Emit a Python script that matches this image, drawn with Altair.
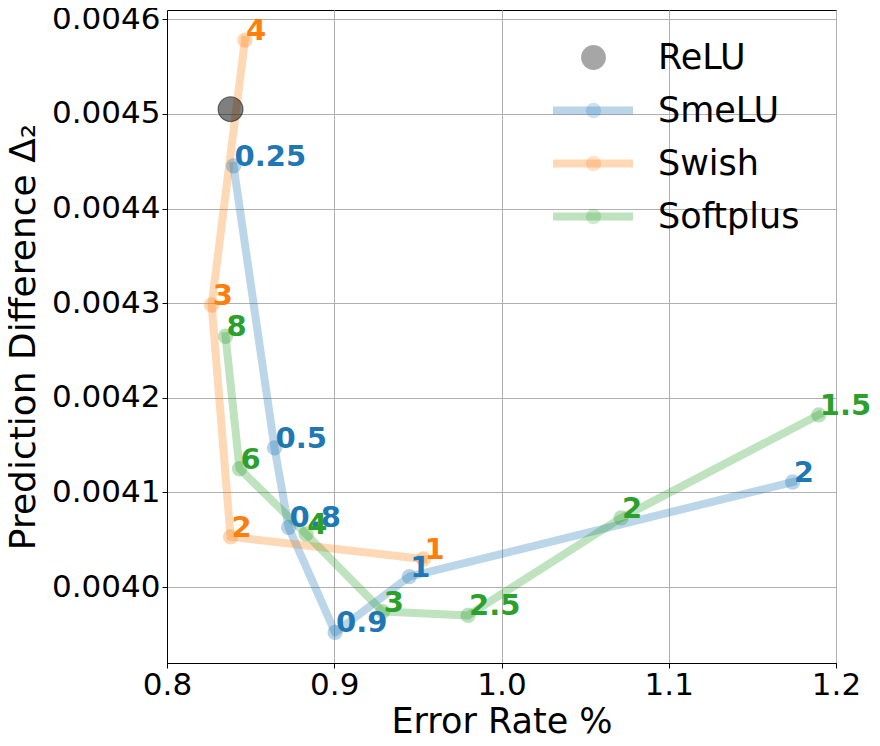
import altair as alt
import pandas as pd

# ---------------- data ----------------
series_names = ["ReLU", "SmeLU", "Swish", "Softplus"]
point_keys = ["relu", "smelu", "swish", "softplus"]
series_colors = ["#000000", "#1f77b4", "#ff7f0e", "#2ca02c"]

relu_err = [0.8380]
relu_pd = [0.004505]

smelu_beta = ["0.25", "0.5", "0.8", "0.9", "1", "2"]
smelu_err = [0.8398, 0.8643, 0.8727, 0.9005, 0.9449, 1.1741]
smelu_pd = [0.004445, 0.004147, 0.004063, 0.003952, 0.004011, 0.004111]

swish_beta = ["4", "3", "2", "1"]
swish_err = [0.8466, 0.8267, 0.8380, 0.9533]
swish_pd = [0.004578, 0.004298, 0.004053, 0.0040296]

softplus_beta = ["8", "6", "4", "3", "2.5", "2", "1.5"]
softplus_err = [0.8350, 0.8434, 0.8832, 0.9290, 0.9800, 1.0715, 1.1897]
softplus_pd = [0.004265, 0.004125, 0.004056, 0.003974, 0.003970, 0.004073, 0.004182]

x_ticks = [0.8, 0.9, 1.0, 1.1, 1.2]
y_ticks = [0.0040, 0.0041, 0.0042, 0.0043, 0.0044, 0.0045, 0.0046]
x_domain = [0.8, 1.2]
y_domain = [0.0039197, 0.0046098]

# ---------------- tables ----------------
rows = []
for name, key, betas, errs, pds in [
    ("SmeLU", "smelu", smelu_beta, smelu_err, smelu_pd),
    ("Swish", "swish", swish_beta, swish_err, swish_pd),
    ("Softplus", "softplus", softplus_beta, softplus_err, softplus_pd),
]:
    for i, (b, e, p) in enumerate(zip(betas, errs, pds)):
        rows.append({"series": name, "key": key, "beta": b, "err": e, "pd": p, "idx": i})
df = pd.DataFrame(rows)
relu_df = pd.DataFrame({"series": ["ReLU"], "key": ["relu"], "beta": [""],
                        "err": relu_err, "pd": relu_pd, "idx": [0]})
all_pts = pd.concat([relu_df, df], ignore_index=True)

FONT = "DejaVu Sans"

X = alt.X("err:Q", scale=alt.Scale(domain=x_domain, nice=False, zero=False),
          axis=alt.Axis(values=x_ticks, format=".1f", title="Error Rate %",
                        titleFontSize=35, titlePadding=4))
Y = alt.Y("pd:Q", scale=alt.Scale(domain=y_domain, nice=False, zero=False),
          axis=alt.Axis(values=y_ticks, format=".4f", title="Prediction Difference Δ₂",
                        titleFontSize=36, titlePadding=9))

LEG_Y = 30
ROW_PAD = 17
CLIP_H = 35

legend_lines = alt.Legend(
    orient="none", legendX=382, legendY=LEG_Y, title=None,
    symbolType="stroke", symbolSize=6400, symbolStrokeWidth=8,
    labelFont=FONT, labelFontSize=35, labelColor="black", labelOffset=21,
    rowPadding=ROW_PAD, padding=0, clipHeight=CLIP_H,
)
legend_points = alt.Legend(
    orient="none", legendX=409, legendY=LEG_Y, title=None,
    symbolType="circle", symbolStrokeWidth=0,
    labelFont=FONT, labelFontSize=35, labelOpacity=0,
    rowPadding=ROW_PAD, padding=0, clipHeight=CLIP_H,
)

lines = alt.Chart(df).mark_line(
    strokeWidth=8, opacity=0.3, strokeJoin="round", strokeCap="square"
).encode(
    x=X, y=Y,
    stroke=alt.Stroke("series:N",
                      scale=alt.Scale(domain=series_names,
                                      range=["transparent"] + series_colors[1:]),
                      legend=legend_lines),
    order=alt.Order("idx:Q"),
)

points = alt.Chart(all_pts).mark_point(filled=True, strokeWidth=0).encode(
    x=X, y=Y,
    fill=alt.Fill("key:N", scale=alt.Scale(domain=point_keys, range=series_colors),
                  legend=legend_points),
    size=alt.Size("key:N", scale=alt.Scale(type="ordinal", domain=point_keys,
                                           range=[615, 235, 235, 235]),
                  legend=legend_points),
    opacity=alt.Opacity("key:N", scale=alt.Scale(type="ordinal", domain=point_keys,
                                                 range=[0.5, 0.32, 0.32, 0.32]),
                        legend=legend_points),
)

relu_ring = alt.Chart(relu_df).mark_point(
    filled=False, size=615, stroke="black", strokeWidth=1.2, opacity=0.5
).encode(x=X, y=Y)

labels = alt.Chart(df).mark_text(
    align="left", baseline="alphabetic", dx=1, font=FONT, fontWeight="bold", fontSize=29
).encode(
    x=X, y=Y, text="beta:N",
    color=alt.Color("series:N",
                    scale=alt.Scale(domain=series_names[1:], range=series_colors[1:]),
                    legend=None),
)

chart = alt.layer(lines, points, relu_ring, labels).properties(
    width=669, height=653,
    padding={"left": 159, "top": 2, "right": 36, "bottom": 75},
    autosize=alt.AutoSizeParams(type="none"),
    background="white",
).configure_axis(
    labelFont=FONT, labelFontSize=31, labelColor="black",
    titleFont=FONT, titleFontWeight="normal", titleColor="black",
    tickColor="black", tickSize=5, tickWidth=1,
    domainColor="black", domainWidth=1,
    gridColor="#b0b0b0", gridWidth=1,
    labelFlush=False, labelOverlap=False, labelPadding=2,
).configure_view(stroke="black", strokeWidth=1)

chart.save("out.html", embed_options={"renderer": "svg", "actions": False})
